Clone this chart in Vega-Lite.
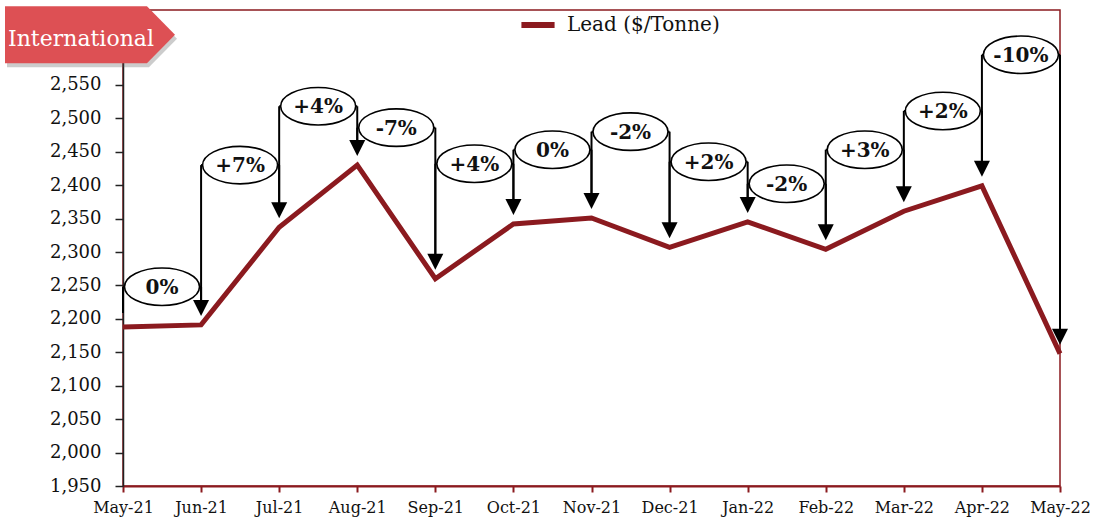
{
  "$schema": "https://vega.github.io/schema/vega-lite/v6.json",
  "width": 937,
  "height": 476,
  "autosize": "none",
  "padding": {"left": 123, "top": 10, "right": 36, "bottom": 35},
  "background": "white",
  "datasets": {
    "months": [
      {"month": "May-21", "price": 2188},
      {"month": "Jun-21", "price": 2191},
      {"month": "Jul-21", "price": 2337},
      {"month": "Aug-21", "price": 2430},
      {"month": "Sep-21", "price": 2260},
      {"month": "Oct-21", "price": 2342},
      {"month": "Nov-21", "price": 2351},
      {"month": "Dec-21", "price": 2307},
      {"month": "Jan-22", "price": 2345},
      {"month": "Feb-22", "price": 2304},
      {"month": "Mar-22", "price": 2361},
      {"month": "Apr-22", "price": 2399},
      {"month": "May-22", "price": 2148}
    ],
    "notes": [
      {"from": "May-21", "to": "Jun-21", "label": "0%", "level": 2248},
      {"from": "Jun-21", "to": "Jul-21", "label": "+7%", "level": 2430},
      {"from": "Jul-21", "to": "Aug-21", "label": "+4%", "level": 2518},
      {"from": "Aug-21", "to": "Sep-21", "label": "-7%", "level": 2486},
      {"from": "Sep-21", "to": "Oct-21", "label": "+4%", "level": 2432},
      {"from": "Oct-21", "to": "Nov-21", "label": "0%", "level": 2453},
      {"from": "Nov-21", "to": "Dec-21", "label": "-2%", "level": 2480},
      {"from": "Dec-21", "to": "Jan-22", "label": "+2%", "level": 2435},
      {"from": "Jan-22", "to": "Feb-22", "label": "-2%", "level": 2402},
      {"from": "Feb-22", "to": "Mar-22", "label": "+3%", "level": 2453},
      {"from": "Mar-22", "to": "Apr-22", "label": "+2%", "level": 2511},
      {"from": "Apr-22", "to": "May-22", "label": "-10%", "level": 2595}
    ],
    "banner": [
      {"month": "May-21", "text": "International", "pos": 2625}
    ]
  },
  "config": {
    "view": {"stroke": "#8B1A1F", "strokeWidth": 1.5},
    "axisX": {
      "domainColor": "#8B1A1F", "domainWidth": 2, "tickColor": "#8B1A1F", "tickWidth": 2, "tickSize": 6,
      "labelFont": "DejaVu Serif", "labelFontSize": 16, "labelColor": "#111111", "labelPadding": 7,
      "labelAngle": 0, "labelOverlap": false, "grid": false, "title": null
    },
    "axisY": {
      "domainColor": "#222222", "domainWidth": 1.5, "tickColor": "#222222", "tickWidth": 1.5, "tickSize": 8,
      "labelFont": "DejaVu Serif", "labelFontSize": 18, "labelColor": "#111111", "labelPadding": 14,
      "grid": false, "title": null
    }
  },
  "layer": [
    {
      "data": {"name": "months"},
      "mark": {"type": "line", "strokeWidth": 5, "strokeJoin": "miter", "strokeCap": "butt"},
      "encoding": {
        "x": {"field": "month", "type": "nominal", "scale": {"type": "point", "padding": 0, "domain": ["May-21","Jun-21","Jul-21","Aug-21","Sep-21","Oct-21","Nov-21","Dec-21","Jan-22","Feb-22","Mar-22","Apr-22","May-22"]}, "sort": null, "axis": {"title": null}},
        "y": {"field": "price", "type": "quantitative", "scale": {"domain": [1950, 2662], "nice": false, "zero": false}, "axis": {"title": null, "values": [1950,2000,2050,2100,2150,2200,2250,2300,2350,2400,2450,2500,2550], "format": ",.0f"}},
        "color": {
          "datum": "Lead ($/Tonne)",
          "type": "nominal",
          "scale": {"range": ["#8B1A1F"]},
          "legend": {
            "orient": "none", "legendX": 395, "legendY": -5, "title": null, "padding": 0,
            "symbolType": "stroke", "symbolSize": 1100, "symbolStrokeWidth": 6, "symbolStrokeColor": "#8B1A1F",
            "labelFont": "DejaVu Serif", "labelFontSize": 20, "labelColor": "#111111", "labelOffset": 9, "labelLimit": 400
          }
        }
      }
    },
    {
      "data": {"name": "notes"},
      "transform": [
        {"lookup": "from", "from": {"data": {"name": "months"}, "key": "month", "fields": ["price"]}, "as": ["from_price"]}
      ],
      "mark": {"type": "rule", "color": "black", "strokeWidth": 2, "y2Offset": -14},
      "encoding": {
        "x": {"field": "from", "type": "nominal", "scale": {"type": "point", "padding": 0, "domain": ["May-21","Jun-21","Jul-21","Aug-21","Sep-21","Oct-21","Nov-21","Dec-21","Jan-22","Feb-22","Mar-22","Apr-22","May-22"]}, "axis": {"title": null}},
        "y": {"field": "level", "type": "quantitative", "scale": {"domain": [1950, 2662], "nice": false, "zero": false}, "axis": {"title": null, "values": [1950,2000,2050,2100,2150,2200,2250,2300,2350,2400,2450,2500,2550], "format": ",.0f"}},
        "y2": {"field": "from_price"}
      }
    },
    {
      "data": {"name": "notes"},
      "mark": {"type": "rule", "color": "black", "strokeWidth": 2},
      "encoding": {
        "x": {"field": "from", "type": "nominal", "scale": {"type": "point", "padding": 0, "domain": ["May-21","Jun-21","Jul-21","Aug-21","Sep-21","Oct-21","Nov-21","Dec-21","Jan-22","Feb-22","Mar-22","Apr-22","May-22"]}, "axis": {"title": null}},
        "x2": {"field": "to"},
        "y": {"field": "level", "type": "quantitative", "scale": {"domain": [1950, 2662], "nice": false, "zero": false}, "axis": {"title": null, "values": [1950,2000,2050,2100,2150,2200,2250,2300,2350,2400,2450,2500,2550], "format": ",.0f"}}
      }
    },
    {
      "data": {"name": "notes"},
      "transform": [
        {"lookup": "to", "from": {"data": {"name": "months"}, "key": "month", "fields": ["price"]}, "as": ["to_price"]}
      ],
      "mark": {"type": "rule", "color": "black", "strokeWidth": 2, "y2Offset": -20},
      "encoding": {
        "x": {"field": "to", "type": "nominal", "scale": {"type": "point", "padding": 0, "domain": ["May-21","Jun-21","Jul-21","Aug-21","Sep-21","Oct-21","Nov-21","Dec-21","Jan-22","Feb-22","Mar-22","Apr-22","May-22"]}, "axis": {"title": null}},
        "y": {"field": "level", "type": "quantitative", "scale": {"domain": [1950, 2662], "nice": false, "zero": false}, "axis": {"title": null, "values": [1950,2000,2050,2100,2150,2200,2250,2300,2350,2400,2450,2500,2550], "format": ",.0f"}},
        "y2": {"field": "to_price"}
      }
    },
    {
      "data": {"name": "notes"},
      "transform": [
        {"lookup": "to", "from": {"data": {"name": "months"}, "key": "month", "fields": ["price"]}, "as": ["to_price"]}
      ],
      "mark": {"type": "point", "shape": "M-1,-1 L1,-1 L0,1 Z", "size": 256, "filled": true, "color": "black", "opacity": 1, "yOffset": -17},
      "encoding": {
        "x": {"field": "to", "type": "nominal", "scale": {"type": "point", "padding": 0, "domain": ["May-21","Jun-21","Jul-21","Aug-21","Sep-21","Oct-21","Nov-21","Dec-21","Jan-22","Feb-22","Mar-22","Apr-22","May-22"]}, "axis": {"title": null}},
        "y": {"field": "to_price", "type": "quantitative", "scale": {"domain": [1950, 2662], "nice": false, "zero": false}, "axis": {"title": null, "values": [1950,2000,2050,2100,2150,2200,2250,2300,2350,2400,2450,2500,2550], "format": ",.0f"}}
      }
    },
    {
      "data": {"name": "notes"},
      "mark": {"type": "point", "shape": "M-1,0 A1,0.5 0 1,0 1,0 A1,0.5 0 1,0 -1,0 Z", "size": 5625, "filled": true, "fill": "white", "stroke": "black", "strokeWidth": 1.6, "opacity": 1, "fillOpacity": 1, "xOffset": 39},
      "encoding": {
        "x": {"field": "from", "type": "nominal", "scale": {"type": "point", "padding": 0, "domain": ["May-21","Jun-21","Jul-21","Aug-21","Sep-21","Oct-21","Nov-21","Dec-21","Jan-22","Feb-22","Mar-22","Apr-22","May-22"]}, "axis": {"title": null}},
        "y": {"field": "level", "type": "quantitative", "scale": {"domain": [1950, 2662], "nice": false, "zero": false}, "axis": {"title": null, "values": [1950,2000,2050,2100,2150,2200,2250,2300,2350,2400,2450,2500,2550], "format": ",.0f"}}
      }
    },
    {
      "data": {"name": "notes"},
      "mark": {"type": "text", "font": "DejaVu Serif", "fontSize": 20, "fontWeight": "bold", "color": "#111111", "align": "center", "baseline": "middle", "xOffset": 39, "yOffset": 1},
      "encoding": {
        "x": {"field": "from", "type": "nominal", "scale": {"type": "point", "padding": 0, "domain": ["May-21","Jun-21","Jul-21","Aug-21","Sep-21","Oct-21","Nov-21","Dec-21","Jan-22","Feb-22","Mar-22","Apr-22","May-22"]}, "axis": {"title": null}},
        "y": {"field": "level", "type": "quantitative", "scale": {"domain": [1950, 2662], "nice": false, "zero": false}, "axis": {"title": null, "values": [1950,2000,2050,2100,2150,2200,2250,2300,2350,2400,2450,2500,2550], "format": ",.0f"}},
        "text": {"field": "label"}
      }
    },
    {
      "data": {"name": "banner"},
      "mark": {"type": "point", "shape": "M-1,-0.335 L0.67,-0.335 L1,0 L0.67,0.335 L-1,0.335 Z", "size": 28900, "filled": true, "color": "#555555", "opacity": 0.3, "xOffset": -31, "yOffset": 4},
      "encoding": {
        "x": {"field": "month", "type": "nominal", "scale": {"type": "point", "padding": 0, "domain": ["May-21","Jun-21","Jul-21","Aug-21","Sep-21","Oct-21","Nov-21","Dec-21","Jan-22","Feb-22","Mar-22","Apr-22","May-22"]}, "axis": {"title": null}},
        "y": {"field": "pos", "type": "quantitative", "scale": {"domain": [1950, 2662], "nice": false, "zero": false}, "axis": {"title": null, "values": [1950,2000,2050,2100,2150,2200,2250,2300,2350,2400,2450,2500,2550], "format": ",.0f"}}
      }
    },
    {
      "data": {"name": "banner"},
      "mark": {"type": "point", "shape": "M-1,-0.335 L0.67,-0.335 L1,0 L0.67,0.335 L-1,0.335 Z", "size": 28900, "filled": true, "color": "#DD5054", "opacity": 1, "xOffset": -33},
      "encoding": {
        "x": {"field": "month", "type": "nominal", "scale": {"type": "point", "padding": 0, "domain": ["May-21","Jun-21","Jul-21","Aug-21","Sep-21","Oct-21","Nov-21","Dec-21","Jan-22","Feb-22","Mar-22","Apr-22","May-22"]}, "axis": {"title": null}},
        "y": {"field": "pos", "type": "quantitative", "scale": {"domain": [1950, 2662], "nice": false, "zero": false}, "axis": {"title": null, "values": [1950,2000,2050,2100,2150,2200,2250,2300,2350,2400,2450,2500,2550], "format": ",.0f"}}
      }
    },
    {
      "data": {"name": "banner"},
      "mark": {"type": "text", "font": "DejaVu Serif", "fontSize": 22, "color": "white", "align": "left", "baseline": "alphabetic", "xOffset": -115, "yOffset": 11},
      "encoding": {
        "x": {"field": "month", "type": "nominal", "scale": {"type": "point", "padding": 0, "domain": ["May-21","Jun-21","Jul-21","Aug-21","Sep-21","Oct-21","Nov-21","Dec-21","Jan-22","Feb-22","Mar-22","Apr-22","May-22"]}, "axis": {"title": null}},
        "y": {"field": "pos", "type": "quantitative", "scale": {"domain": [1950, 2662], "nice": false, "zero": false}, "axis": {"title": null, "values": [1950,2000,2050,2100,2150,2200,2250,2300,2350,2400,2450,2500,2550], "format": ",.0f"}},
        "text": {"field": "text"}
      }
    }
  ]
}
